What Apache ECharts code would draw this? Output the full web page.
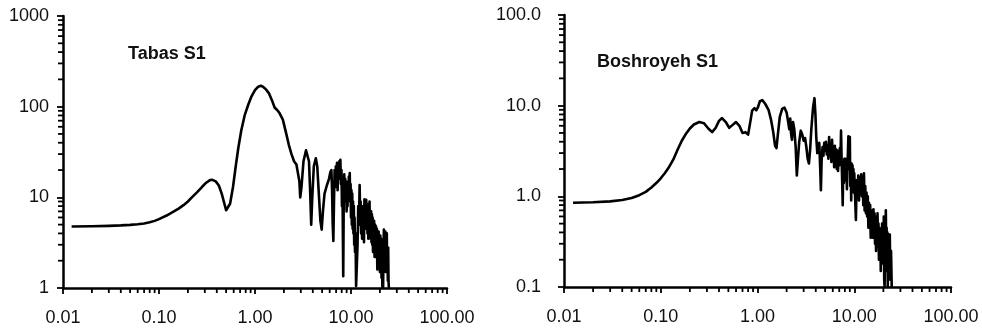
<!DOCTYPE html>
<html><head><meta charset="utf-8">
<script src="https://cdn.jsdelivr.net/npm/echarts@6/dist/echarts.min.js"></script>
<style>html,body{margin:0;padding:0;background:#fff}#c{width:982px;height:330px}</style>
</head><body><div id="c"></div>
<script>
const titleLeft = 'Tabas S1';
const titleRight = 'Boshroyeh S1';
const xTickLabels = ['0.01','0.10','1.00','10.00','100.00'];
const leftYTickLabels = ['1','10','100','1000'];
const rightYTickLabels = ['0.1','1.0','10.0','100.0'];

const tabasFreq = [0.0123,0.02,0.03,0.04,0.05,0.06,0.07,0.08,0.09,0.1,0.12,0.14,0.16,0.18,0.2,0.22,0.25,0.28,0.31,0.34,0.36,0.39,0.42,0.45,0.48,0.5,0.52,0.55,0.59,0.63,0.67,0.72,0.78,0.85,0.92,1.0,1.08,1.15,1.22,1.3,1.4,1.5,1.6,1.7,1.8,1.95,2.1,2.25,2.4,2.55,2.7,2.8,2.9,2.96,3.05,3.2,3.4,3.55,3.65,3.75,3.85,3.95,4.1,4.3,4.45,4.6,4.8,4.95,5.1,5.3,5.6,5.9,6.1,6.25,6.35,6.45,6.55,
  6.65,6.75,6.85,6.95,7.05,7.15,7.25,7.35,7.45,7.55,7.65,7.75,7.85,7.95,8.05,8.15,8.3,8.4,8.5,8.6,8.7,8.8,8.9,9.0,9.1,9.2,9.3,9.4,9.5,9.6,9.7,9.8,9.9,10.0,10.1,10.2,10.3,10.4,10.5,10.6,10.7,10.8,10.9,11.0,11.15,11.3,11.5,11.7,11.9,12.1,12.3,12.45,12.6,12.75,12.9,13.05,13.2,13.35,13.5,13.65,13.8,13.95,14.1,14.25,14.4,14.55,14.7,14.85,15.0,15.15,15.3,15.45,15.6,15.75,15.9,16.05,16.2,16.35,16.5,16.65,16.8,16.95,17.1,17.25,17.4,17.6,17.8,18.0,18.2,18.4,18.6,18.8,19.0,19.2,19.4,19.6,19.8,20.0,20.2,20.4,20.6,20.8,21.0,21.2,21.4,21.6,21.8,22.0,22.2,22.4,22.6,22.8,23.0,23.2,23.4,23.6,23.8,24.0,24.2,24.4,24.6,24.8];
const tabasAmp = [4.77,4.8,4.85,4.9,4.97,5.05,5.15,5.3,5.5,5.75,6.3,6.9,7.5,8.2,9.0,10.0,11.4,13.0,14.5,15.5,15.6,15.0,13.5,11.0,8.5,7.2,7.0,8.5,13,22,35,55,80,105,130,152,166,170,165,155,140,118,98,92,85,72,52,38,30,25,23,22,15,10,13,25,33,33,25,12,5.0,10,22,27,22,12,5.5,4.4,7,11,13.5,16,19,20,12,5,3.3,
  9,20,13,22,15,24,12,21,16,25,17,26,14,20,8,14,1.35,9,18,11,16,9,15,7,13,8,14,10,17,12,18.5,9,14,6,12,5,11,4.5,9,4,8,3,6,2.5,4,1.05,1.0,3,8,5,13.7,6,9,4,8,3.5,7.5,4,8,3.2,9.5,5,8,4.5,9.4,5,8.5,4,8,3.5,7.5,4.5,9,4,7,3.5,7,3.2,6.5,3,6,2.5,5.5,2.8,5.5,2.2,5,2.5,4.8,2.2,4.5,1.6,4,2.5,4.2,2,3.5,1.5,3.8,2.2,3.5,1.3,3,1.03,2.2,1.02,2.5,4.4,1.8,3.8,2,4.2,1.5,3.5,1.8,4,1.5,2.5,1.2,2.8,1.2,1.0];

const boshFreq = [0.0124,0.02,0.03,0.04,0.05,0.06,0.07,0.08,0.09,0.1,0.11,0.12,0.135,0.15,0.165,0.18,0.2,0.22,0.25,0.28,0.31,0.34,0.37,0.4,0.43,0.47,0.51,0.55,0.6,0.65,0.7,0.75,0.8,0.84,0.88,0.93,0.97,1.01,1.06,1.12,1.2,1.3,1.38,1.45,1.52,1.57,1.63,1.7,1.8,1.9,2.0,2.08,2.13,2.18,2.22,2.27,2.33,2.4,2.48,2.55,2.62,2.7,2.8,2.9,3.0,3.1,3.2,3.3,3.4,3.5,3.6,3.75,3.88,3.97,4.05,4.15,4.25,4.35,4.45,4.52,
  4.6,4.7,4.8,4.9,5.0,5.1,5.2,5.3,5.4,5.5,5.6,5.7,5.8,5.9,6.0,6.1,6.2,6.3,6.4,6.5,6.6,6.7,6.8,6.9,7.0,7.1,7.2,7.3,7.4,7.5,7.6,7.7,7.8,7.9,8.0,8.1,8.2,8.3,8.4,8.5,8.6,8.7,8.8,8.9,9.0,9.1,9.2,9.3,9.4,9.5,9.6,9.7,9.8,9.9,10.0,10.2,10.4,10.6,10.8,11.0,11.2,11.4,11.6,11.8,12.0,12.2,12.4,12.6,12.8,13.0,13.2,13.4,13.6,13.8,14.0,14.2,14.4,14.6,14.8,15.0,15.2,15.4,15.6,15.8,16.0,16.2,16.4,16.6,16.8,17.0,17.2,17.4,17.6,17.8,18.0,18.2,18.4,18.6,18.8,19.0,19.2,19.4,19.6,19.8,20.0,20.2,20.4,20.6,20.8,21.0,21.2,21.4,21.6,21.8,22.0,22.2,22.4,22.6,22.8,23.0,23.3,23.6,24.0,24.4,24.8];
const boshAmp = [0.85,0.86,0.88,0.91,0.96,1.03,1.12,1.25,1.4,1.58,1.8,2.05,2.55,3.3,4.1,4.8,5.6,6.2,6.6,6.4,5.6,5.1,5.7,6.8,7.3,6.6,5.7,6.1,6.6,6.0,5.0,5.1,4.8,6.5,8.8,9.4,8.9,9.6,11.2,11.5,10.5,9.0,7.0,5.2,3.6,3.4,5,7.5,9.2,9.5,8.4,6.5,5.5,7.2,5.0,4.2,6.6,5.5,3.5,1.7,2.6,4.0,5.3,4.8,4.1,4.4,3.5,2.6,2.3,3.3,5.5,9.5,12.1,8,4.5,3.0,3.5,3.9,2.0,1.17,
  2.5,3.5,2.8,3.9,3.2,4.0,2.9,3.6,2.6,4.5,2.8,3.8,2.4,4.2,2.6,3.5,2.1,3.6,2.4,3.3,2.0,3.2,1.9,3.0,2.2,3.4,2.4,5.3,2.6,1.5,0.8,2.2,1.4,2.6,1.6,2.6,1.5,2.4,1.2,2.2,3.0,4.6,2.0,3.5,4.5,1.3,2.0,0.9,2.3,1.4,2.2,1.2,2.0,1.1,1.8,1.0,0.55,1.5,1.0,1.7,0.9,1.6,1.1,1.75,1.0,1.6,0.8,1.8,0.7,1.3,0.65,1.1,0.6,1.0,0.45,0.85,0.5,0.8,0.35,0.7,0.4,0.65,0.35,0.72,0.38,0.65,0.3,0.6,0.25,0.55,0.3,0.65,0.28,0.5,0.2,0.45,0.25,0.4,0.15,0.4,0.2,0.5,0.22,0.45,0.18,0.6,0.12,0.1,0.3,0.2,0.7,0.25,0.45,0.15,0.4,0.1,0.35,0.15,0.38,0.2,0.38,0.12,0.25,0.1,0.1];

const minorMultipliers = [2,3,4,5,6,7,8,9];
const xDecades = [0.01,0.1,1,10];
const leftYDecades = [1,10,100];
const rightYDecades = [0.1,1,10];

function zip(a,b){return a.map((v,i)=>[v,b[i]]);}
function minors(decades){const r=[];decades.forEach(d=>minorMultipliers.forEach(m=>r.push(d*m)));return r;}

const FONT = "'Liberation Sans', Arial, Helvetica, sans-serif";
const chart = echarts.init(document.getElementById('c'), null, {renderer:'canvas'});

function xAxisDef(gi){return {type:'log',logBase:10,min:0.01,max:100,gridIndex:gi,
  axisLine:{show:true,lineStyle:{color:'#000',width:2.5}},
  axisTick:{show:true,length:6,lineStyle:{color:'#000',width:1.8}},
  splitLine:{show:false},
  axisLabel:{margin:21,color:'#111',fontSize:18,fontFamily:FONT,
    formatter:v=>xTickLabels[Math.round(Math.log10(v))+2]}};}
function yAxisDef(gi,min,max,labels,margin){return {type:'log',logBase:10,min:min,max:max,gridIndex:gi,
  axisLine:{show:true,lineStyle:{color:'#000',width:2.5}},
  axisTick:{show:true,length:6,lineStyle:{color:'#000',width:1.8}},
  splitLine:{show:false},
  axisLabel:{margin:margin,color:'#111',fontSize:18,fontFamily:FONT,
    formatter:v=>labels[Math.round(Math.log10(v/min))]}};}

function tickSeries(xi,yi,vals,isX,anchor){
  return {type:'custom',xAxisIndex:xi,yAxisIndex:yi,silent:true,clip:false,z:5,
    data: vals.map(v=> isX ? [v,anchor] : [anchor,v]),
    renderItem:(params,api)=>{
      const p = api.coord([api.value(0),api.value(1)]);
      const shape = isX ? {x1:p[0],y1:p[1],x2:p[0],y2:p[1]+5} : {x1:p[0]-5,y1:p[1],x2:p[0],y2:p[1]};
      return {type:'line',shape:shape,style:{stroke:'#000',lineWidth:1.8}};
    }};
}

chart.setOption({
  animation:false,
  backgroundColor:'#fff',
  title:[
    {text:titleLeft,left:128,top:45,padding:0,textStyle:{fontSize:18,fontWeight:'bold',color:'#111',fontFamily:FONT}},
    {text:titleRight,left:597,top:53,padding:0,textStyle:{fontSize:18,fontWeight:'bold',color:'#111',fontFamily:FONT}}
  ],
  grid:[
    {left:63,top:16,width:384,height:272},
    {left:564,top:15,width:387,height:272}
  ],
  xAxis:[xAxisDef(0),xAxisDef(1)],
  yAxis:[yAxisDef(0,1,1000,leftYTickLabels,14),yAxisDef(1,0.1,100,rightYTickLabels,23)],
  series:[
    {type:'line',xAxisIndex:0,yAxisIndex:0,data:zip(tabasFreq,tabasAmp),showSymbol:false,
      lineStyle:{color:'#000',width:2.6,join:'round'},itemStyle:{color:'#000'}},
    {type:'line',xAxisIndex:1,yAxisIndex:1,data:zip(boshFreq,boshAmp),showSymbol:false,
      lineStyle:{color:'#000',width:2.6,join:'round'},itemStyle:{color:'#000'}},
    tickSeries(0,0,minors(xDecades),true,1),
    tickSeries(0,0,minors(leftYDecades),false,0.01),
    tickSeries(1,1,minors(xDecades),true,0.1),
    tickSeries(1,1,minors(rightYDecades),false,0.01)
  ]
});
</script></body></html>
